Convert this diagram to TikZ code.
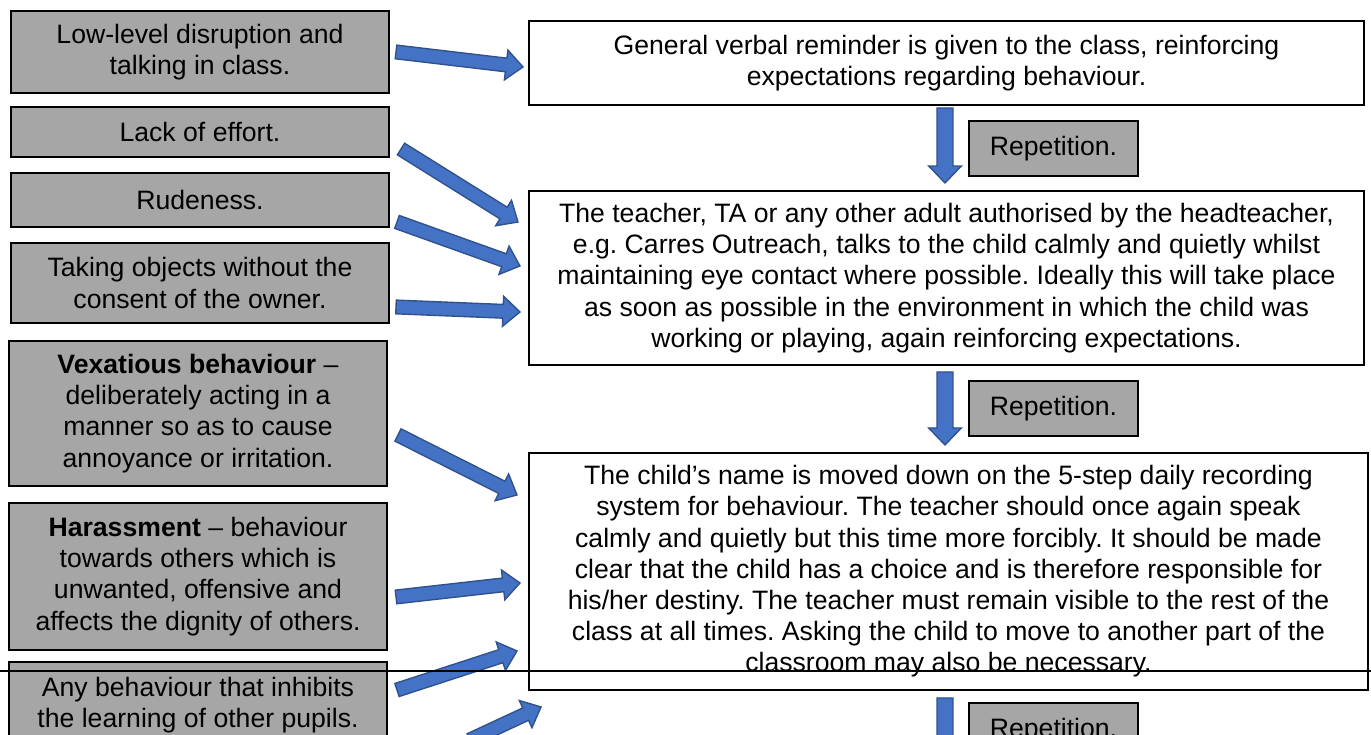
\documentclass[tikz,border=0pt]{standalone}
\usepackage{fontspec}
\setmainfont{Liberation Sans}
\usetikzlibrary{calc}
\usetikzlibrary{positioning}
\definecolor{boxgray}{RGB}{166,166,166}
\definecolor{ablue}{RGB}{68,114,196}
\definecolor{aedge}{RGB}{47,82,143}
\frenchspacing
\tikzset{cause/.style = {draw, fill=boxgray, line width=0.9pt, inner sep=0pt,
                         align=center, minimum width=5.79cm,
                         font=\fontsize{11.6}{13.6}\selectfont},
         action/.style = {draw, fill=white, line width=0.9pt, inner sep=0pt,
                          align=center, font=\fontsize{11.6}{13.6}\selectfont},
         repbox/.style = {draw, fill=boxgray, line width=0.9pt, inner sep=0pt,
                          minimum width=2.59cm, minimum height=0.84cm,
                          font=\fontsize{11.6}{13.6}\selectfont},
         blockarr/.style = {fill=ablue, draw=aedge, line width=0.6pt, line join=miter}}
\newcommand{\ashaft}{0.105cm}
\newcommand{\ahead}{0.23cm}
\newcommand{\blockarrow}[2]{%
  \coordinate (bh) at ($(#2)!0.26cm!(#1)$);
  \filldraw [blockarr] ($(#1)!\ashaft!90:(#2)$) -- ($(bh)!\ashaft!-90:(#1)$)
    -- ($(bh)!\ahead!-90:(#1)$) -- (#2) -- ($(bh)!\ahead!90:(#1)$)
    -- ($(bh)!\ashaft!90:(#1)$) -- ($(#1)!\ashaft!-90:(#2)$) -- cycle;}

\begin{document}
\begin{tikzpicture}
    \useasboundingbox (0, 0) rectangle (21, 11.258);
    \clip (0, 0) rectangle (21, 11.258);

    % causes
    \node [cause, minimum height=1.256cm] (low) at (3.063, 10.462)
        {Low-level disruption and\\ talking in class.};
    \node [cause, minimum height=0.766cm] (effort) at (3.063, 9.236) {Lack of effort.};
    \node [cause, minimum height=0.827cm] (rude) at (3.063, 8.195) {Rudeness.};
    \node [cause, minimum height=1.225cm] (taking) at (3.063, 6.923)
        {Taking objects without the\\ consent of the owner.};
    \node [cause, minimum height=2.221cm] (vex) at (3.033, 4.925)
        {\textbf{Vexatious behaviour} --\\ deliberately acting in a\\ manner so as to cause\\ annoyance or irritation.};
    \node [cause, minimum height=2.252cm] (harass) at (3.033, 2.428)
        {\textbf{Harassment} -- behaviour\\ towards others which is\\ unwanted, offensive and\\ affects the dignity of others.};
    \node [cause, minimum height=1.333cm] (inhibit) at (3.033, 0.452)
        {Any behaviour that inhibits\\ the learning of other pupils.};

    % steps
    \node [action, minimum width=12.79cm, minimum height=1.287cm] (remind) at (14.498, 10.293)
        {General verbal reminder is given to the class, reinforcing\\ expectations regarding behaviour.};
    \node [action, minimum width=12.79cm, minimum height=2.665cm] (talk) at (14.498, 7.0)
        {The teacher, TA or any other adult authorised by the headteacher,\\
         e.g. Carres Outreach, talks to the child calmly and quietly whilst\\
         maintaining eye contact where possible. Ideally this will take place\\
         as soon as possible in the environment in which the child was\\
         working or playing, again reinforcing expectations.};
    \node [action, minimum width=12.851cm, minimum height=3.63cm] (move) at (14.528, 2.504)
        {The child’s name is moved down on the 5-step daily recording\\
         system for behaviour. The teacher should once again speak\\
         calmly and quietly but this time more forcibly. It should be made\\
         clear that the child has a choice and is therefore responsible for\\
         his/her destiny. The teacher must remain visible to the rest of the\\
         class at all times. Asking the child to move to another part of the\\
         classroom may also be necessary.};

    \node [repbox] (rep1) at (16.137, 8.984) {Repetition.};
    \node [repbox] (rep2) at (16.137, 5.001) {Repetition.};
    \node [repbox] (rep3) at (16.137, 0.069) {Repetition.};

    % arrow ends
    \coordinate (a1s) at (6.066, 10.462);  \coordinate (a1e) at (8.011, 10.232);
    \coordinate (a2s) at (6.142, 8.975);   \coordinate (a2e) at (7.934, 7.857);
    \coordinate (a3s) at (6.081, 7.858);   \coordinate (a3e) at (7.965, 7.184);
    \coordinate (a4s) at (6.066, 6.556);   \coordinate (a4e) at (7.965, 6.479);
    \coordinate (a5s) at (6.096, 4.595);   \coordinate (a5e) at (7.919, 3.676);
    \coordinate (a6s) at (6.066, 2.114);   \coordinate (a6e) at (7.965, 2.328);
    \coordinate (a7s) at (6.081, 0.689);   \coordinate (a7e) at (7.919, 1.287);
    \coordinate (a8s) at (7.199, -0.077);  \coordinate (a8e) at (8.287, 0.429);
    \coordinate (d1s) at (14.475, 9.604);  \coordinate (d1e) at (14.475, 8.455);
    \coordinate (d2s) at (14.475, 5.560);  \coordinate (d2e) at (14.475, 4.442);
    \coordinate (d3s) at (14.475, 0.567);  \coordinate (d3e) at (14.475, -0.582);

    \blockarrow{a1s}{a1e}
    \blockarrow{a2s}{a2e}
    \blockarrow{a3s}{a3e}
    \blockarrow{a4s}{a4e}
    \blockarrow{a5s}{a5e}
    \blockarrow{a6s}{a6e}
    \blockarrow{a7s}{a7e}
    \blockarrow{a8s}{a8e}
    \renewcommand{\ashaft}{0.122cm}
    \renewcommand{\ahead}{0.25cm}
    \blockarrow{d1s}{d1e}
    \blockarrow{d2s}{d2e}
    \blockarrow{d3s}{d3e}

    \coordinate (cutl) at (0, 0.98);
    \coordinate (cutr) at (21, 0.98);
    \draw [line width=0.9pt] (cutl) -- (cutr);
\end{tikzpicture}
\end{document}
